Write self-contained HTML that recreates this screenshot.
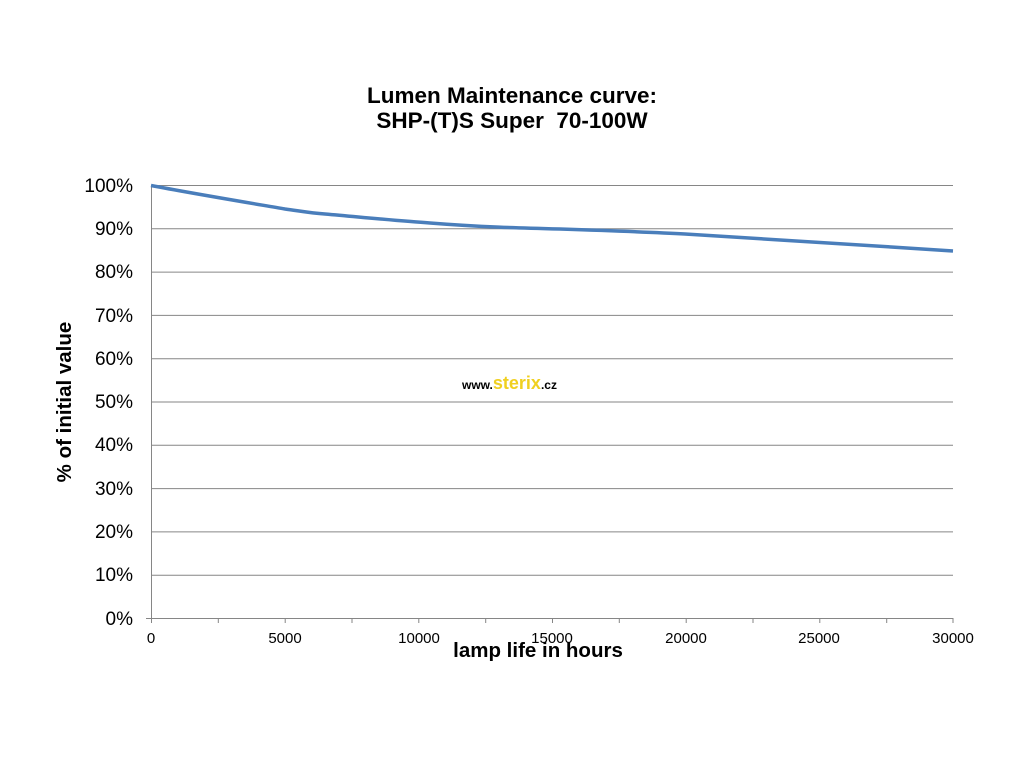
<!DOCTYPE html>
<html><head><style>
body{margin:0;background:#fff;}
svg text{font-family:"Liberation Sans",sans-serif;}
</style></head><body>
<svg width="1024" height="768" viewBox="0 0 1024 768">
<text x="512" y="103" font-size="22.5" font-weight="bold" text-anchor="middle">Lumen Maintenance curve:</text>
<text x="512" y="128" font-size="22.5" font-weight="bold" text-anchor="middle" xml:space="preserve" style="white-space:pre">SHP-(T)S Super  70-100W</text>
<g stroke="#868686" stroke-width="1">
<line x1="151" y1="185.5" x2="953" y2="185.5"/>
<line x1="151" y1="228.8" x2="953" y2="228.8"/>
<line x1="151" y1="272.1" x2="953" y2="272.1"/>
<line x1="151" y1="315.4" x2="953" y2="315.4"/>
<line x1="151" y1="358.7" x2="953" y2="358.7"/>
<line x1="151" y1="402" x2="953" y2="402"/>
<line x1="151" y1="445.3" x2="953" y2="445.3"/>
<line x1="151" y1="488.6" x2="953" y2="488.6"/>
<line x1="151" y1="531.9" x2="953" y2="531.9"/>
<line x1="151" y1="575.2" x2="953" y2="575.2"/>
<line x1="146" y1="618.5" x2="953" y2="618.5"/>
<line x1="151.5" y1="185" x2="151.5" y2="618"/>
<line x1="151.5" y1="618" x2="151.5" y2="623"/>
<line x1="218.3" y1="618" x2="218.3" y2="623"/>
<line x1="285.2" y1="618" x2="285.2" y2="623"/>
<line x1="352" y1="618" x2="352" y2="623"/>
<line x1="418.8" y1="618" x2="418.8" y2="623"/>
<line x1="485.7" y1="618" x2="485.7" y2="623"/>
<line x1="552.5" y1="618" x2="552.5" y2="623"/>
<line x1="619.3" y1="618" x2="619.3" y2="623"/>
<line x1="686.2" y1="618" x2="686.2" y2="623"/>
<line x1="753" y1="618" x2="753" y2="623"/>
<line x1="819.8" y1="618" x2="819.8" y2="623"/>
<line x1="886.7" y1="618" x2="886.7" y2="623"/>
<line x1="953" y1="618" x2="953" y2="623"/>
</g>
<g font-size="19" text-anchor="end">
<text x="133" y="192">100%</text><text x="133" y="235">90%</text><text x="133" y="278">80%</text>
<text x="133" y="322">70%</text><text x="133" y="365">60%</text><text x="133" y="408">50%</text>
<text x="133" y="451">40%</text><text x="133" y="495">30%</text><text x="133" y="538">20%</text>
<text x="133" y="581">10%</text><text x="133" y="625">0%</text>
</g>
<g font-size="15" text-anchor="middle">
<text x="151" y="643">0</text><text x="285" y="643">5000</text><text x="419" y="643">10000</text>
<text x="552" y="643">15000</text><text x="686" y="643">20000</text><text x="819" y="643">25000</text>
<text x="953" y="643">30000</text>
</g>
<text x="538" y="657" font-size="20.5" font-weight="bold" text-anchor="middle">lamp life in hours</text>
<text transform="translate(71,402) rotate(-90)" font-size="20.5" font-weight="bold" text-anchor="middle">% of initial value</text>
<text x="462" y="389" font-size="12" font-weight="bold">www.<tspan fill="#f0d020" font-size="18">sterix</tspan>.cz</text>
<path d="M151,185.5 C190,193 250,203 285,209 C300,211 310,213 325,214 C370,218 400,221 430,223 C480,227 520,228 560,229 C620,231 650,232 685,234 C760,238 860,245 953,251" fill="none" stroke="#4a7ebb" stroke-width="3.5"/>
</svg>
</body></html>
